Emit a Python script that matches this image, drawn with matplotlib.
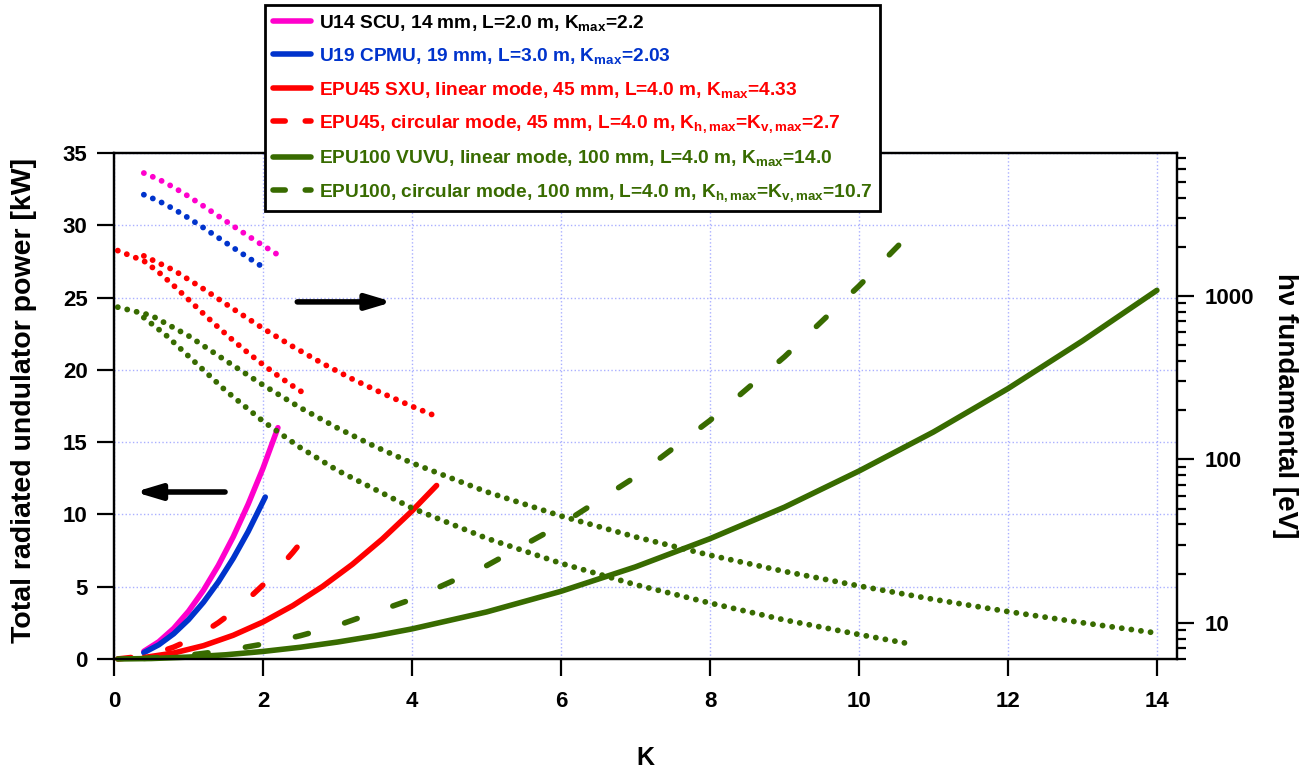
import matplotlib.pyplot as plt
from matplotlib.lines import Line2D
from matplotlib.ticker import FuncFormatter, NullFormatter, LogLocator

plt.rcParams['font.family'] = ['Liberation Sans', 'DejaVu Sans']
plt.rcParams['font.weight'] = 'bold'
plt.rcParams['mathtext.fontset'] = 'custom'
plt.rcParams['mathtext.rm'] = 'Liberation Sans:bold'
plt.rcParams['mathtext.it'] = 'Liberation Sans:bold'
plt.rcParams['mathtext.bf'] = 'Liberation Sans:bold'
plt.rcParams['mathtext.default'] = 'rm'

# couleurs
c_mag = '#ff00cc'
c_blue = '#0033cc'
c_red = '#ff0000'
c_green = '#386b00'

# U14 SCU
k_u14 = [0.4, 0.6, 0.8, 1.0, 1.2, 1.4, 1.6, 1.8, 2.0, 2.2]
p_u14 = [0.53, 1.19, 2.11, 3.3, 4.75, 6.47, 8.45, 10.7, 13.2, 16.0]
e_u14 = [5655, 5175, 4627, 4071, 3551, 3084, 2679, 2331, 2036, 1786]

# U19 CPMU
k_u19 = [0.4, 0.6, 0.8, 1.0, 1.2, 1.4, 1.6, 1.8, 2.03]
p_u19 = [0.44, 0.98, 1.74, 2.72, 3.92, 5.33, 6.96, 8.81, 11.2]
e_u19 = [4167, 3814, 3409, 3000, 2616, 2273, 1974, 1718, 1470]

# EPU45 lineaire
k_45l = [0.4, 0.8, 1.2, 1.6, 2.0, 2.4, 2.8, 3.2, 3.6, 4.0, 4.33]
p_45l = [0.10, 0.41, 0.92, 1.64, 2.56, 3.69, 5.02, 6.55, 8.29, 10.24, 12.0]
e_45l = [1759, 1439, 1105, 833, 633, 490, 386, 310, 254, 211, 183]

# EPU45 circulaire
k_45c = [0.05, 0.4, 0.6, 0.8, 1.0, 1.2, 1.4, 1.6, 1.8, 2.0, 2.2, 2.4, 2.6]
p_45c = [0.003, 0.20, 0.46, 0.82, 1.28, 1.84, 2.51, 3.28, 4.15, 5.12, 6.20, 7.37, 8.65]
e_45c = [1895, 1638, 1397, 1159, 950, 779, 642, 534, 448, 380, 325, 281, 245]

# EPU100 lineaire
k_100l = [0.05, 0.5, 1.0, 1.5, 2.0, 2.5, 3.0, 3.5, 4.0, 5.0, 6.0, 7.0, 8.0, 9.0, 10.0, 11.0, 12.0, 13.0, 14.0]
p_100l = [0.0003, 0.03, 0.13, 0.29, 0.52, 0.81, 1.17, 1.59, 2.08, 3.25, 4.68, 6.37, 8.32, 10.5, 13.0, 15.7, 18.7, 22.0, 25.5]
e_100l = [854, 760, 570, 402, 285, 207, 155.5, 120, 95.0, 63.3, 45.0, 33.5, 25.9, 20.6, 16.8, 13.9, 11.7, 10.0, 8.64]

# EPU100 circulaire
k_100c = [0.4, 0.7, 1.0, 1.5, 2.0, 2.5, 3.0, 4.0, 5.0, 6.0, 7.0, 8.0, 9.0, 10.0, 10.7]
p_100c = [0.04, 0.13, 0.26, 0.58, 1.03, 1.61, 2.32, 4.13, 6.45, 9.29, 12.6, 16.5, 20.9, 25.8, 29.5]
e_100c = [737, 574, 428, 263, 171, 118, 85.5, 50.3, 32.9, 23.1, 17.1, 13.2, 10.4, 8.47, 7.40]

labels = [
    r"U14 SCU, 14 mm, L=2.0 m, K$_{max}$=2.2",
    r"U19 CPMU, 19 mm, L=3.0 m, K$_{max}$=2.03",
    r"EPU45 SXU, linear mode, 45 mm, L=4.0 m, K$_{max}$=4.33",
    r"EPU45, circular mode, 45 mm, L=4.0 m, K$_{h,max}$=K$_{v,max}$=2.7",
    r"EPU100 VUVU, linear mode, 100 mm, L=4.0 m, K$_{max}$=14.0",
    r"EPU100, circular mode, 100 mm, L=4.0 m, K$_{h,max}$=K$_{v,max}$=10.7",
]
text_colors = ['black', c_blue, c_red, c_red, c_green, c_green]

fig = plt.figure(figsize=(13.02, 7.70), dpi=100)
ax = fig.add_axes([0.0876, 0.1442, 0.8164, 0.6571])
ax2 = ax.twinx()

lw = 4
dash = (2.4, 6.8)
dot = (0.01, 1.65)

series = [
    (k_u14, p_u14, e_u14, c_mag, None),
    (k_u19, p_u19, e_u19, c_blue, None),
    (k_45l, p_45l, e_45l, c_red, None),
    (k_45c, p_45c, e_45c, c_red, dash),
    (k_100l, p_100l, e_100l, c_green, None),
    (k_100c, p_100c, e_100c, c_green, dash),
]

for k, p, e, c, d in series:
    if d is None:
        ax.plot(k, p, color=c, lw=lw, solid_capstyle='round', clip_on=False, zorder=3)
    else:
        ax.plot(k, p, color=c, lw=lw, dashes=d, dash_capstyle='round', clip_on=False, zorder=3)
    ax2.plot(k, e, color=c, lw=4.2, dashes=dot, dash_capstyle='round')

# axes
ax.set_xlim(0, 14.27)
ax.set_ylim(0, 35)
ax.set_xticks(range(0, 15, 2))
ax.set_yticks(range(0, 36, 5))
ax2.set_yscale('log')
ax2.set_ylim(6.0, 7500)
ax2.yaxis.set_major_locator(LogLocator(base=10))
ax2.yaxis.set_minor_locator(LogLocator(base=10, subs=range(2, 10)))
ax2.yaxis.set_major_formatter(FuncFormatter(lambda v, pos: f'{v:g}'))
ax2.yaxis.set_minor_formatter(NullFormatter())

ax.grid(True, color='#aab0ff', linestyle=':', lw=1)
ax.set_axisbelow(True)

for a in (ax, ax2):
    for s in a.spines.values():
        s.set_linewidth(1.6)

ax.tick_params(axis='both', direction='out', length=12, width=1.6, labelsize=16)
ax.tick_params(axis='x', pad=11)
ax.tick_params(axis='y', pad=7)
ax2.tick_params(axis='y', which='major', direction='out', length=12, width=1.6, labelsize=16, pad=8)
ax2.tick_params(axis='y', which='minor', direction='out', length=6.5, width=1.6)

# fleches
ax.annotate('', xy=(0.28, 11.55), xytext=(1.49, 11.55),
            arrowprops=dict(arrowstyle='-|>,head_length=0.6,head_width=0.18', lw=4, color='black',
                            mutation_scale=25, shrinkA=0, shrinkB=0))
ax.annotate('', xy=(3.74, 24.7), xytext=(2.46, 24.7),
            arrowprops=dict(arrowstyle='-|>,head_length=0.6,head_width=0.18', lw=4, color='black',
                            mutation_scale=25, shrinkA=0, shrinkB=0))

fig.text(24 / 1302, 1 - 400 / 770, 'Total radiated undulator power [kW]', rotation=90,
         ha='center', va='center', fontsize=20.5)
fig.text(1285 / 1302, 1 - 406 / 770, 'hν fundamental [eV]', rotation=270,
         ha='center', va='center', fontsize=20)
fig.text(645 / 1302, 1 - 758 / 770, 'K', ha='center', va='center', fontsize=18)

# legende
handles = []
for k, p, e, c, d in series:
    if d is None:
        handles.append(Line2D([], [], color=c, lw=lw, solid_capstyle='round'))
    else:
        handles.append(Line2D([], [], color=c, lw=lw, dashes=(2.2, 3.6), dash_capstyle='round'))
leg = fig.legend(handles, labels, loc='upper left', bbox_to_anchor=(265 / 1302, 1 - 5 / 770),
                 frameon=True, fancybox=False, edgecolor='black', framealpha=1,
                 fontsize=13.8, handlelength=2.0, handletextpad=0.4, labelspacing=0.7,
                 borderpad=0.4, borderaxespad=0)
leg.get_frame().set_linewidth(2)
for t, c in zip(leg.get_texts(), text_colors):
    t.set_color(c)

plt.savefig('out.png', dpi=100)
